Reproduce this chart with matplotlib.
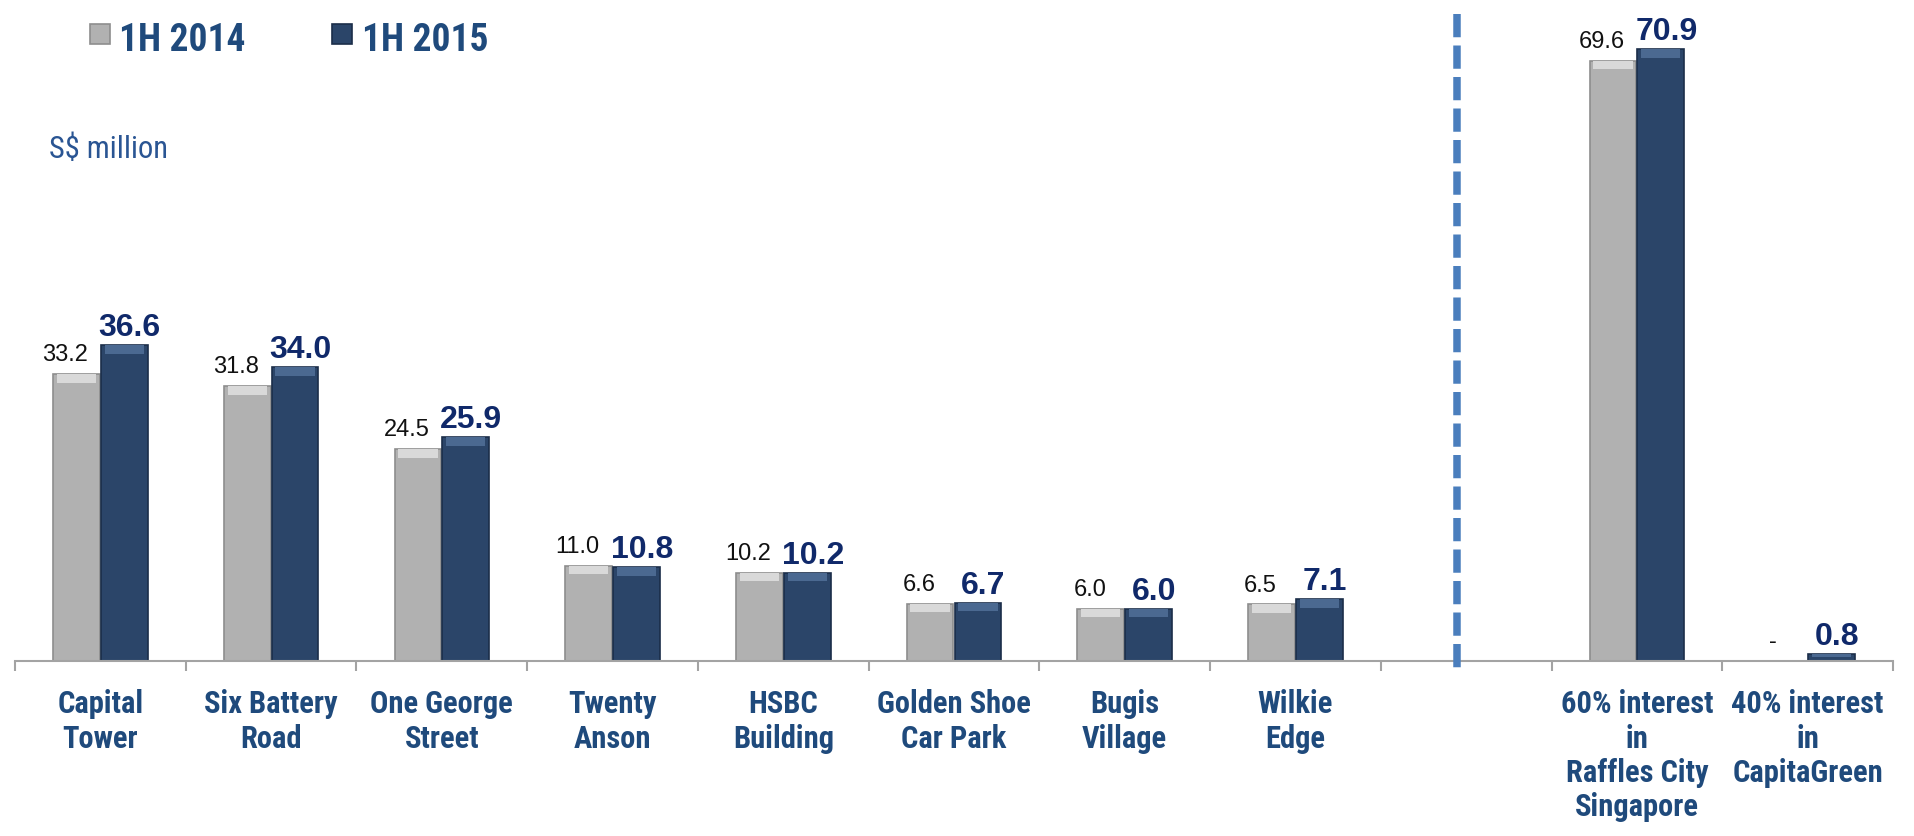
import matplotlib.pyplot as plt
import numpy as np
from matplotlib import font_manager
from matplotlib.patches import Rectangle

# data (S$ million)
categories = ['Capital\nTower', 'Six Battery\nRoad', 'One George\nStreet',
              'Twenty\nAnson', 'HSBC\nBuilding', 'Golden Shoe\nCar Park',
              'Bugis\nVillage', 'Wilkie\nEdge', '',
              '60% interest\nin\nRaffles City\nSingapore',
              '40% interest\nin\nCapitaGreen']
h2014 = [33.2, 31.8, 24.5, 11.0, 10.2, 6.6, 6.0, 6.5, None, 69.6, 0.0]
h2015 = [36.6, 34.0, 25.9, 10.8, 10.2, 6.7, 6.0, 7.1, None, 70.9, 0.8]
series_names = ['1H 2014', '1H 2015']

# pick a narrow font if one is installed, otherwise Roboto a bit smaller
installed = {f.name for f in font_manager.fontManager.ttflist}
NARROW, k = 'Roboto', 0.9
for cand in ['Liberation Sans Narrow', 'Roboto Condensed', 'Arial Narrow']:
    if cand in installed:
        NARROW, k = cand, 1.0
        break

GRAY = '#b1b1b1'
GRAY_EDGE = '#8e8e8e'
GRAY_TOP = '#d9d9d9'
NAVY = '#2b4569'
NAVY_EDGE = '#1b2e49'
NAVY_TOP = '#4b6991'
LABEL_BLUE = '#1f4a7c'
VALUE_NAVY = '#10296a'
DASH_BLUE = '#4a7ebd'

W, H, DPI = 1915, 837, 100
fig = plt.figure(figsize=(W / DPI, H / DPI), dpi=DPI)
ax = fig.add_axes([15 / W, 1 - 661.5 / H, 1878 / W, 646.5 / H])

x = np.arange(len(categories))
bw = 0.28
v14 = np.array([np.nan if v is None else v for v in h2014])
v15 = np.array([np.nan if v is None else v for v in h2015])

def draw_series(xs, vals, face, edge, top):
    ax.bar(xs, vals, width=bw - 0.006, color=face, edgecolor=edge, linewidth=1.2, zorder=2)
    band = np.minimum(vals * 0.45, 1.0)
    ax.bar(xs, band, bottom=vals - band, width=bw - 0.05, color=top,
           linewidth=0, zorder=3)

draw_series(x - bw / 2, v14, GRAY, GRAY_EDGE, GRAY_TOP)
draw_series(x + bw / 2, v15, NAVY, NAVY_EDGE, NAVY_TOP)

# value labels
for xi, v in zip(x, h2014):
    if v is None:
        continue
    txt = '-' if v == 0 else f'{v:.1f}'
    ax.annotate(txt, (xi - bw / 2, v), xytext=(-8, 10), textcoords='offset points',
                ha='center', va='baseline', fontsize=17, color='#111111',
                family='Liberation Sans')
for xi, v in zip(x, h2015):
    if v is None:
        continue
    ax.annotate(f'{v:.1f}', (xi + bw / 2, v), xytext=(4, 7.2), textcoords='offset points',
                ha='center', va='baseline', fontsize=23, fontweight='bold',
                color=VALUE_NAVY, family='Liberation Sans')

ax.set_xlim(-0.5, len(categories) - 0.5)
ax.set_ylim(0, 75)

for s in ['top', 'right', 'left']:
    ax.spines[s].set_visible(False)
ax.spines['bottom'].set_color('#a3a3a3')
ax.spines['bottom'].set_linewidth(1.5)
ax.set_yticks([])

ax.set_xticks(x)
ax.set_xticklabels(categories, fontsize=22 * k, fontweight='bold', color=LABEL_BLUE,
                   family=NARROW, linespacing=1.18)
ax.tick_params(axis='x', which='major', length=0, pad=20)
ax.set_xticks(np.arange(len(categories) + 1) - 0.5, minor=True)
ax.tick_params(axis='x', which='minor', length=7.2, width=1.5, color='#a3a3a3')

# divider between owned and joint-venture properties
ax.plot([7.945, 7.945], [1.0, -0.022], transform=ax.get_xaxis_transform(),
        color=DASH_BLUE, linewidth=5.4, linestyle=(0, (3.1, 1.1)),
        solid_capstyle='butt', dash_capstyle='butt', clip_on=False, zorder=4)

# legend
for (sx, tx), name, face, edge in zip([(90, 119), (332, 362)], series_names,
                                      [GRAY, NAVY], [GRAY_EDGE, NAVY_EDGE]):
    fig.add_artist(Rectangle((sx / W, 1 - 45 / H), 20 / W, 20 / H, transform=fig.transFigure,
                             facecolor=face, edgecolor=edge, linewidth=1.2))
    fig.text(tx / W, 1 - 51 / H, name, fontsize=27 * k, fontweight='bold', color=LABEL_BLUE,
             family=NARROW, va='baseline', ha='left')

fig.text(49 / W, 1 - 158 / H, 'S$ million', fontsize=22 * k, color='#2a5593',
         family=NARROW, va='baseline', ha='left')

fig.savefig('out.png', dpi=DPI)
